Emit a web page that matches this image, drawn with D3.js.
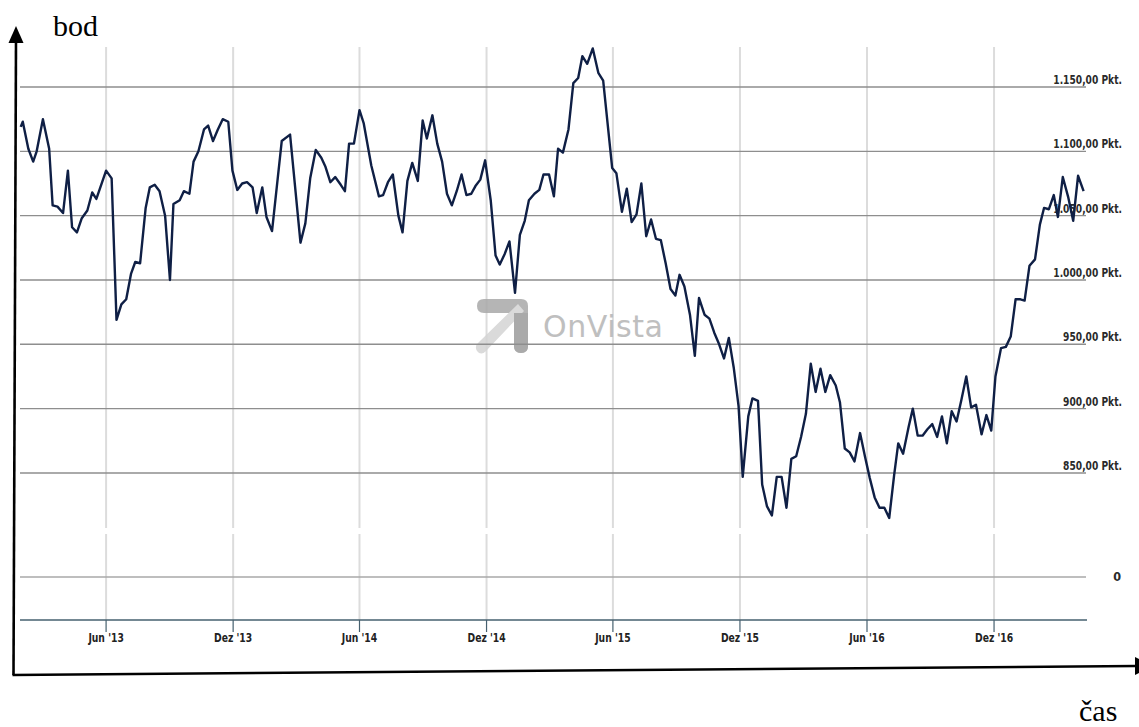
<!DOCTYPE html>
<html><head><meta charset="utf-8">
<script src="https://cdn.jsdelivr.net/npm/d3@7"></script>
<style>body{margin:0;background:#fff;} svg{display:block}</style>
</head><body><svg id="c" width="1139" height="727"></svg>
<script>
const dates = [
"2013-01-29","2013-02-01","2013-02-09","2013-02-16","2013-02-21","2013-03-02","2013-03-11","2013-03-16","2013-03-23","2013-03-31",
"2013-04-07","2013-04-13","2013-04-20","2013-04-27","2013-05-05","2013-05-12","2013-05-18","2013-06-01","2013-06-09","2013-06-16",
"2013-06-23","2013-06-30","2013-07-07","2013-07-13","2013-07-20","2013-07-28","2013-08-03","2013-08-10","2013-08-17","2013-08-25",
"2013-09-01","2013-09-06","2013-09-15","2013-09-21","2013-09-29","2013-10-05","2013-10-12","2013-10-20","2013-10-26","2013-11-02",
"2013-11-09","2013-11-16","2013-11-24","2013-11-30","2013-12-07","2013-12-14","2013-12-21","2013-12-29",
"2014-01-04","2014-01-12","2014-01-18","2014-01-26","2014-02-09","2014-02-21","2014-03-08","2014-03-15","2014-03-22","2014-03-30",
"2014-04-07","2014-04-13","2014-04-20","2014-04-27","2014-05-05","2014-05-11","2014-05-17","2014-05-24","2014-06-01","2014-06-07",
"2014-06-18","2014-06-29","2014-07-05","2014-07-12","2014-07-19","2014-07-27","2014-08-02","2014-08-09","2014-08-16","2014-08-24",
"2014-08-31","2014-09-06","2014-09-14","2014-09-21","2014-09-28","2014-10-05","2014-10-12","2014-10-19","2014-10-26","2014-11-02",
"2014-11-09","2014-11-15","2014-11-22","2014-11-29","2014-12-07","2014-12-14","2014-12-20","2014-12-27",
"2015-01-03","2015-01-11","2015-01-18","2015-01-25","2015-01-31","2015-02-08","2015-02-15","2015-02-21","2015-03-01","2015-03-08",
"2015-03-14","2015-03-21","2015-03-29","2015-04-05","2015-04-12","2015-04-18","2015-04-25","2015-05-03","2015-05-11","2015-05-18",
"2015-05-31","2015-06-06","2015-06-14","2015-06-21","2015-06-28","2015-07-05","2015-07-12","2015-07-19","2015-07-26","2015-08-02",
"2015-08-09","2015-08-16","2015-08-23","2015-08-30","2015-09-05","2015-09-12","2015-09-20","2015-09-27","2015-10-03","2015-10-11",
"2015-10-18","2015-10-25","2015-11-01","2015-11-08","2015-11-15","2015-11-22","2015-11-29","2015-12-05","2015-12-13","2015-12-19",
"2015-12-27",
"2016-01-02","2016-01-09","2016-01-16","2016-01-23","2016-01-30","2016-02-06","2016-02-13","2016-02-20","2016-02-27","2016-03-05",
"2016-03-12","2016-03-19","2016-03-26","2016-04-02","2016-04-09","2016-04-17","2016-04-23","2016-04-30","2016-05-07","2016-05-14",
"2016-05-22","2016-05-29","2016-06-05","2016-06-12","2016-06-19","2016-06-26","2016-07-03","2016-07-10","2016-07-16","2016-07-23",
"2016-07-31","2016-08-06","2016-08-13","2016-08-20","2016-08-27","2016-09-03","2016-09-10","2016-09-17","2016-09-24","2016-10-01",
"2016-10-08","2016-10-15","2016-10-22","2016-10-29","2016-11-05","2016-11-13","2016-11-20","2016-11-27","2016-12-03","2016-12-11",
"2016-12-18","2016-12-25",
"2017-01-01","2017-01-08","2017-01-14","2017-01-21","2017-01-29","2017-02-05","2017-02-11","2017-02-18","2017-02-25","2017-03-03",
"2017-03-10","2017-03-18","2017-03-25","2017-04-01","2017-04-09"];

const values = [
1119,1123,1102,1092,1100,1125,1102,1058,1057,1052,
1085,1041,1037,1048,1054,1068,1063,1085,1079,969,
981,985,1005,1014,1013,1056,1072,1074,1069,1050,
1000,1059,1062,1069,1067,1092,1100,1117,1120,1108,
1117,1125,1123,1085,1070,1075,1076,1072,
1052,1072,1049,1038,1108,1113,1029,1044,1079,1101,
1095,1088,1076,1080,1074,1069,1106,1106,1132,1122,
1089,1065,1066,1076,1082,1050,1037,1077,1091,1077,
1124,1110,1128,1106,1092,1067,1058,1069,1082,1066,
1067,1073,1078,1093,1062,1019,1012,1020,
1030,990,1035,1046,1062,1067,1070,1082,1082,1065,
1102,1099,1117,1153,1157,1174,1168,1180,1161,1155,
1087,1083,1053,1071,1045,1051,1075,1034,1047,1032,
1031,1013,993,988,1004,995,973,941,986,973,
970,959,950,939,955,932,902,847,894,908,
906,
841,824,817,847,847,823,861,863,878,896,
935,913,931,913,926,918,905,869,866,859,
881,863,846,831,823,823,815,848,873,865,
886,900,879,879,884,888,878,894,873,898,
890,907,925,901,903,880,895,883,925,947,
948,956,
985,985,984,1011,1016,1043,1056,1055,1066,1049,
1080,1064,1046,1081,1069];

const xTickDates = ["2013-06-01","2013-12-01","2014-06-01","2014-12-01","2015-06-01","2015-12-01","2016-06-01","2016-12-01"];
const xTickLabels = ["Jun '13","Dez '13","Jun '14","Dez '14","Jun '15","Dez '15","Jun '16","Dez '16"];
const yTicks = [850,900,950,1000,1050,1100,1150];
const zeroTick = 0;
const yTitle = "bod";
const xTitle = "čas";
const watermark = "OnVista";

const parse = d3.timeParse("%Y-%m-%d");
const data = dates.map((d,i)=>({date:parse(d), value:values[i]}));
const de = d3.formatLocale({decimal:",", thousands:".", grouping:[3], currency:["","€"]});
const fmt = v => de.format(",.2f")(v) + " Pkt.";

const svg = d3.select("#c");
const left = 20, right = 1086, axisY = 620, gridTop = 47;
const x = d3.scaleTime().domain([parse("2013-01-28"), parse("2017-04-11")]).range([20, 1085]);
const y = d3.scaleLinear().domain([0, 800, 1150]).range([577, 537.3, 87]);
const breakTop = 528, breakBottom = 534;
const labelFont = "'DejaVu Sans Condensed','DejaVu Sans',sans-serif";

// narrow the condensed labels to mimic the reference's narrow font
function narrow(sel, k){
  sel.each(function(){
    const w = this.getComputedTextLength();
    d3.select(this).attr("textLength", w*k).attr("lengthAdjust","spacingAndGlyphs");
  });
}

// vertical gridlines (with break gap)
const vg = svg.append("g");
xTickDates.forEach(d=>{
  const xx = x(parse(d));
  vg.append("line").attr("x1",xx).attr("x2",xx).attr("y1",gridTop).attr("y2",breakTop)
    .attr("stroke","#dcdcdc").attr("stroke-width",2);
  vg.append("line").attr("x1",xx).attr("x2",xx).attr("y1",breakBottom).attr("y2",axisY)
    .attr("stroke","#dcdcdc").attr("stroke-width",2);
});

// watermark
const wm = svg.append("g").attr("opacity",0.85);
wm.append("path").attr("d","M484,299 L521,299 Q528,299 528,306 L528,346 Q528,353 521,353 Q514,353 514,346 L514,313 L484,313 Q477,313 477,306 Q477,299 484,299 Z").attr("fill","#a9a9a9");
wm.append("path").attr("d","M518,304 L524,311 L486,351 Q481,356 477,351 Q474,346 479,342 Z").attr("fill","#d4d4d4");
wm.append("path").attr("d","M514,313 L528,313 L528,346 Q528,353 521,353 Q514,353 514,346 Z").attr("fill","#9c9c9c");
wm.append("text").attr("x",543).attr("y",337).attr("font-family","'DejaVu Sans','Open Sans',sans-serif")
  .attr("font-size",30).attr("fill","#b4b4b4").attr("textLength",120).text(watermark);

// horizontal gridlines
yTicks.forEach(v=>{
  svg.append("line").attr("x1",left).attr("x2",right).attr("y1",y(v)).attr("y2",y(v))
    .attr("stroke","#8e8e8e").attr("stroke-width",1.4);
  const t = svg.append("text").attr("x",1122).attr("y",y(v)-3).attr("text-anchor","end")
    .attr("font-family",labelFont).attr("font-weight","bold").attr("font-size",12.5)
    .attr("fill","#2a2a2a").text(fmt(v));
  narrow(t, 0.81);
});
svg.append("line").attr("x1",left).attr("x2",right).attr("y1",y(zeroTick)).attr("y2",y(zeroTick))
  .attr("stroke","#a8a8a8").attr("stroke-width",1.4);
svg.append("text").attr("x",1121).attr("y",y(zeroTick)+4).attr("text-anchor","end")
  .attr("font-family",labelFont).attr("font-weight","bold").attr("font-size",12.5)
  .attr("fill","#2a2a2a").text(String(zeroTick));

// bottom axis
svg.append("line").attr("x1",left).attr("x2",1087).attr("y1",axisY).attr("y2",axisY)
  .attr("stroke","#46606f").attr("stroke-width",1.4);
xTickDates.forEach((d,i)=>{
  const xx = x(parse(d));
  svg.append("line").attr("x1",xx).attr("x2",xx).attr("y1",axisY).attr("y2",632)
    .attr("stroke","#46606f").attr("stroke-width",1.2);
  const t = svg.append("text").attr("x",xx).attr("y",642).attr("text-anchor","middle")
    .attr("font-family",labelFont).attr("font-weight","bold").attr("font-size",12.5)
    .attr("fill","#222").text(xTickLabels[i]);
  narrow(t, 0.82);
});

// data line
const line = d3.line().x(d=>x(d.date)).y(d=>y(d.value));
svg.append("path").datum(data).attr("d",line).attr("fill","none")
  .attr("stroke","#0f1f45").attr("stroke-width",2.4).attr("stroke-linejoin","round");

// hand-drawn axes
svg.append("path").attr("d","M13.5,675 L16,40").attr("stroke","#000").attr("stroke-width",2.6).attr("fill","none");
svg.append("path").attr("d","M16,26 L8.5,43 L23.5,43 Z").attr("fill","#000");
svg.append("path").attr("d","M12.5,675 L1136,666").attr("stroke","#000").attr("stroke-width",2.6).attr("fill","none");
svg.append("path").attr("d","M1135,657 L1135,675 L1152,666 Z").attr("fill","#000");

svg.append("text").attr("x",53).attr("y",36).attr("font-family","'Liberation Serif','Times New Roman',serif")
  .attr("font-size",30).attr("fill","#000").text(yTitle);
svg.append("text").attr("x",1079).attr("y",721).attr("font-family","'Liberation Serif','Times New Roman',serif")
  .attr("font-size",30).attr("fill","#000").text(xTitle);
</script></body></html>
